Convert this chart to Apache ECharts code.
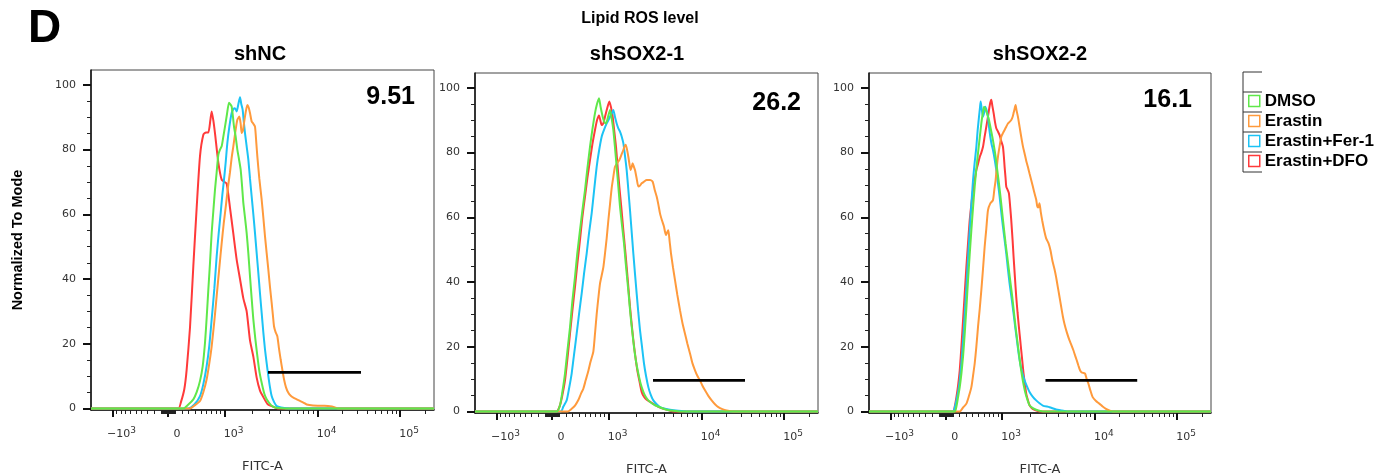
<!DOCTYPE html>
<html>
<head>
<meta charset="utf-8">
<title>Lipid ROS level</title>
<script src="https://cdn.jsdelivr.net/npm/echarts@6/dist/echarts.min.js"></script>
<style>
html, body { margin: 0; padding: 0; background: #fff; }
#chart { width: 1386px; height: 475px; }
</style>
</head>
<body>
<div id="chart"></div>
<script>
// x is the display channel of the biexponential FITC-A axis (0 = left edge)
const CH_MAX = 1029
const Y_MIN = -0.5
const Y_MAX = 104.6

const PANEL_TITLES = ['shNC', 'shSOX2-1', 'shSOX2-2']
const GATE_PCT = ['9.51', '26.2', '16.1']
const SERIES_NAMES = ['DMSO', 'Erastin', 'Erastin+Fer-1', 'Erastin+DFO']
const COLORS = ['#5fe84a', '#ff9a3c', '#1cc3f5', '#ff3a3a']

const X_MAJOR = [-1000, 0, 1000, 10000, 100000]
const X_LABELS = ['−10^3', '0', '10^3', '10^4', '10^5']
const Y_TICKS = [0, 20, 40, 60, 80, 100]

// [channel, % of mode]
const NC_DMSO = [[0,0],[277,0],[292,1.2],[307,2.8],[317,5],[327,8.5],[335,13],[342,20.3],[347,28],[352,36.7],[357,45],[362,54.2],[367,61],[372,67.6],[377,73],[382,78.4],[387,80],[392,81],[397,84],[402,87.1],[408,91],[414,94.5],[418,94],[422,93.3],[426,90],[429,87.1],[434,84],[439,80],[444,77],[449,73.8],[453,69],[457,63.5],[462,59],[467,54.2],[472,48],[477,40.8],[482,34],[487,27.5],[493,21.5],[499,16.2],[505,11.5],[512,7.9],[520,4.5],[527,2.8],[540,1],[552,0.3],[597,0],[1029,0]]
const NC_ERASTIN = [[0,0],[297,0],[312,1],[327,2.3],[337,5],[347,9],[355,14],[362,19.2],[370,27],[377,34.7],[385,43.5],[392,51],[398,57],[405,63],[411,68.5],[417,73],[422,77.5],[427,81],[433,85.5],[439,89.2],[445,90.2],[449,88],[452,85.1],[456,86],[459,88.2],[464,91.5],[469,93.8],[473,93],[477,91.3],[482,88.7],[487,88],[492,87.1],[496,82],[499,77.9],[505,71],[512,64.5],[517,59],[522,53.2],[527,48],[532,42.9],[537,37.5],[542,32.6],[546,28.5],[549,25.4],[554,23.5],[559,22.3],[564,18.5],[569,15.1],[574,12],[579,9],[585,6.5],[592,4.8],[600,3.8],[607,3.3],[617,2.8],[627,2.3],[637,1.8],[647,1.2],[666,0.9],[700,0.8],[717,0.7],[730,0.4],[741,0],[1029,0]]
const NC_FER1 = [[0,0],[292,0],[310,1.2],[327,3.8],[337,7.5],[347,13.1],[355,19.5],[362,27.5],[370,37],[377,47],[383,54],[389,60.4],[394,66],[399,70.7],[404,76],[409,82],[415,87],[422,91.3],[427,92.5],[432,92.8],[437,91.8],[442,94],[447,96.2],[451,94],[455,92.3],[458,89],[462,85.1],[467,81],[472,76.9],[477,71],[482,65.5],[487,60],[492,54.2],[497,48],[502,41.9],[507,35.5],[512,29.5],[517,23.5],[522,18.2],[527,14],[532,10],[537,6.5],[542,3.8],[549,2],[557,0.7],[570,0.3],[597,0],[1029,0]]
const NC_DFO = [[0,0],[262,0],[270,2],[280,6],[287,12],[297,25],[307,44],[317,62],[327,78],[337,84.6],[345,85.3],[352,85.3],[358,89],[362,91.8],[367,89],[372,85],[382,76],[392,70.7],[400,70],[407,69.5],[417,62],[427,54],[437,46],[447,40],[457,34],[467,30],[477,21],[487,16],[497,9.5],[507,5.5],[517,3.5],[530,1.3],[547,0.5],[560,0],[1029,0]]

const SOX1_DMSO = [[0,0],[245,0],[255,1.9],[262,6],[270,11.7],[277,18.5],[285,26],[292,34],[300,41.6],[307,49],[315,56],[322,62],[330,68.4],[337,75],[345,81.8],[352,87],[360,92.2],[366,95],[372,96.8],[377,94],[383,91.1],[388,89.5],[393,89],[399,91],[405,93.2],[410,90.5],[415,87],[420,81.5],[425,75.6],[430,69.5],[435,63.3],[441,57.5],[447,51.9],[452,46],[457,40.6],[462,35],[467,29.2],[472,24.5],[477,19.9],[483,15.5],[490,11.7],[497,8.5],[505,6],[512,4.5],[520,3.4],[530,2.5],[540,1.9],[557,1.2],[575,0.5],[595,0.2],[615,0],[1029,0]]
const SOX1_ERASTIN = [[0,0],[279,0],[290,0.8],[300,1.8],[310,3.5],[318,5.5],[325,7],[332,9.6],[340,12.5],[347,15.5],[355,18.5],[360,24],[365,30],[370,35],[375,39.5],[380,42],[385,44.5],[390,48.8],[395,53.5],[400,59],[405,64],[410,69],[415,72.5],[420,75.6],[427,76.8],[433,77.7],[440,79.5],[445,80.8],[449,82],[452,82.4],[456,81],[460,78.7],[464,76],[467,74.6],[470,75.5],[473,76.7],[477,75.5],[480,74.6],[485,72],[490,69.5],[495,69.8],[500,70.5],[507,71],[515,71.5],[525,71.5],[533,71],[539,68.5],[545,66.4],[550,64],[555,61.2],[561,59],[567,57.1],[570,55.5],[573,54.5],[577,55.5],[580,56],[584,52.5],[588,48.8],[594,44.5],[600,40.6],[607,36],[615,31.3],[622,27.5],[630,24],[637,21],[645,17.9],[652,15],[660,12.7],[667,11],[675,9.6],[682,8],[690,6.5],[700,4.8],[710,3.4],[720,2.2],[730,1.3],[742,0.7],[755,0.3],[775,0],[1029,0]]
const SOX1_FER1 = [[0,0],[258,0],[265,1.5],[275,3.4],[282,7],[290,11.7],[297,17.5],[305,24],[312,30],[320,36.4],[327,42.5],[335,48.8],[342,55],[350,61.2],[357,68],[365,75.6],[372,80.5],[380,84.9],[387,87],[395,89],[400,90],[405,91.1],[410,92],[415,93.2],[420,91],[425,89],[430,87.5],[435,86.5],[440,85],[445,82.9],[450,79],[455,74.6],[460,68.5],[465,62.2],[470,55.5],[475,48.8],[480,42.5],[485,36.4],[490,30.5],[495,25.1],[501,20],[507,14.8],[513,11],[520,7.5],[527,5.2],[535,3.4],[545,2.2],[555,1.3],[570,0.8],[585,0.5],[610,0.2],[635,0],[1029,0]]
const SOX1_DFO = [[0,0],[245,0],[255,1.9],[262,5],[270,9.6],[277,16],[285,24],[292,31],[300,38.5],[307,45.5],[315,53],[322,60],[330,66.4],[337,72],[345,77.7],[352,82.5],[360,87],[366,90],[372,91.5],[376,90],[380,88.5],[385,89],[390,91.1],[396,93.5],[403,95.8],[408,94],[413,91.1],[418,86.5],[423,81.8],[428,75.5],[433,69.5],[439,63],[445,56],[450,50.5],[455,44.7],[460,38.5],[465,32.3],[470,27],[475,22],[481,17],[487,12.7],[493,9.5],[500,6],[507,4.5],[515,3.6],[525,3],[535,2.3],[550,1.4],[565,0.8],[580,0.4],[595,0],[1029,0]]

const SOX2_DMSO = [[0,0],[258,0],[263,1.5],[268,4.4],[273,7.5],[278,11.7],[283,17],[288,24],[293,32],[298,40.6],[303,48.5],[308,56],[313,63],[318,69.5],[323,75],[328,79.8],[333,84.5],[338,89],[342,92],[346,94.2],[350,93.5],[353,92.7],[357,91.5],[361,90.1],[366,87.5],[371,84.9],[376,82],[381,78.7],[386,74.5],[391,70.5],[396,66],[401,61.2],[406,56.5],[411,51.9],[416,47.8],[421,43.7],[426,39.5],[431,35.4],[436,30.8],[441,26.1],[446,22],[451,17.9],[456,14],[461,10.6],[466,7.8],[471,5.5],[477,3.5],[483,1.9],[493,1],[503,0.5],[523,0],[1029,0]]
const SOX2_ERASTIN = [[0,0],[273,0],[283,1.2],[293,2.4],[300,4.5],[308,7.5],[313,11],[318,14.8],[323,20],[328,26.1],[333,31.5],[338,37.5],[343,44],[348,50.9],[353,56.5],[358,62.2],[365,64.3],[373,65.3],[377,68.5],[381,71.5],[384,75],[388,78.7],[393,82],[398,84.9],[403,86],[408,87],[413,88],[418,89],[423,89.5],[428,90.1],[432,91],[435,92.2],[438,93.5],[441,94.7],[444,93],[448,91.1],[453,88],[458,84.9],[463,82],[468,79.8],[473,77.5],[478,75.6],[483,73.5],[488,71.5],[493,69.5],[498,67.4],[503,65.5],[506,63.5],[509,63],[513,64.3],[517,61.5],[521,59.1],[527,56],[533,53.5],[540,52],[546,49.8],[552,46.5],[558,44],[563,41.5],[568,38.5],[573,35.5],[578,32.5],[583,29.5],[588,27.1],[595,24.5],[603,22],[609,20.5],[615,18.9],[620,17.3],[625,15.8],[630,14.2],[635,12.7],[640,12],[645,11.9],[650,11.7],[655,10],[660,8.6],[666,6.5],[673,4.4],[683,3.2],[693,2.4],[703,1.5],[713,0.8],[723,0.3],[733,0],[1029,0]]
const SOX2_FER1 = [[0,0],[253,0],[258,1.2],[263,3.4],[268,6],[273,9.6],[278,15],[283,22],[288,30],[293,38.5],[298,47.5],[303,56],[308,64],[313,71.5],[318,77],[323,81.8],[327,87],[331,91.1],[334,94],[336,95.8],[339,93.5],[343,91.1],[347,92.5],[350,94.2],[354,93],[358,91.1],[361,88],[365,84.9],[369,82.5],[373,80.8],[378,78],[383,74.6],[388,70.5],[393,66.4],[398,61.5],[403,57.1],[408,53],[413,48.8],[418,44],[423,39.5],[429,35],[435,30.2],[440,26],[445,22],[450,18],[455,14.8],[461,12],[468,9.6],[475,7.8],[483,6],[493,4.5],[503,3.4],[513,2.5],[523,1.8],[543,1.3],[563,0.6],[580,0.3],[597,0],[1029,0]]
const SOX2_DFO = [[0,0],[253,0],[258,1.5],[263,4.4],[268,8],[273,12.7],[278,20],[283,28.2],[288,36.5],[293,44.7],[298,52],[303,59.1],[308,64],[313,68.4],[318,71.5],[323,74.6],[328,76.5],[333,78.6],[338,80],[343,81.8],[348,85],[353,88],[357,90.5],[361,93.2],[365,95.5],[368,96.3],[371,94.5],[375,92.2],[379,89.5],[383,87.5],[388,86.5],[393,85.4],[398,83.5],[403,81.8],[406,78.5],[408,75.6],[411,72],[413,69.5],[417,68.5],[421,67.4],[425,63],[428,59.1],[432,53],[435,47.8],[439,41.5],[443,35.4],[447,30.5],[451,26.1],[455,22],[458,18.9],[462,14.8],[465,11.7],[469,8.5],[473,5.5],[478,3.5],[483,1.9],[490,1],[498,0.5],[513,0],[1029,0]]

// gate bars: [[fromCh, level], [toCh, level]]
const GATE_NC = [[531, 11.1], [810, 11.1]]
const GATE_SOX1 = [[534, 9.6], [810, 9.6]]
const GATE_SOX2 = [[531, 9.6], [807, 9.6]]

const PANELS = [
  { curves: [NC_DMSO, NC_ERASTIN, NC_FER1, NC_DFO], gate: GATE_NC },
  { curves: [SOX1_DMSO, SOX1_ERASTIN, SOX1_FER1, SOX1_DFO], gate: GATE_SOX1 },
  { curves: [SOX2_DMSO, SOX2_ERASTIN, SOX2_FER1, SOX2_DFO], gate: GATE_SOX2 }
]

// rough logicle: close to linear around 0, logarithmic from 10^3 up
const ZERO_CH = 231
const POS_SPAN = 169.5
const NEG_SPAN = 166.5
const DEC_CH = [400.5, 679.5, 927]
function toChannel (v) {
  const a = Math.abs(v)
  if (a < 1000) {
    const h = Math.asinh(1.5 * a / 1000) / Math.asinh(1.5)
    return v < 0 ? ZERO_CH - NEG_SPAN * h : ZERO_CH + POS_SPAN * h
  }
  const d = Math.log10(a)
  const ch = d <= 4
    ? DEC_CH[0] + (d - 3) * (DEC_CH[1] - DEC_CH[0])
    : DEC_CH[1] + (d - 4) * (DEC_CH[2] - DEC_CH[1])
  return v < 0 ? ZERO_CH - NEG_SPAN - (ch - DEC_CH[0]) : ch
}

const xMajorCh = X_MAJOR.map(toChannel)
const xMinorCh = []
for (let n = 1; n <= 5; n++) {
  for (let k = 1; k <= 9; k++) {
    const v = k * Math.pow(10, n)
    if (X_MAJOR.indexOf(v) >= 0) continue
    ;[v, -v].forEach(x => {
      const c = toChannel(x)
      if (c > 0 && c < CH_MAX) xMinorCh.push(c)
    })
  }
}
const yMinor = []
for (let v = 5; v < 100; v += 5) {
  if (Y_TICKS.indexOf(v) < 0) yMinor.push(v)
}

function xLabel (value) {
  let idx = 0
  xMajorCh.forEach((c, i) => { if (Math.abs(c - value) < Math.abs(xMajorCh[idx] - value)) idx = i })
  const parts = X_LABELS[idx].split('^')
  return parts.length > 1 ? '{n|' + parts[0] + '}{s|' + parts[1] + '}' : '{n|' + parts[0] + '}'
}

const GRIDS = [
  { left: 91, top: 70, width: 343, height: 340 },
  { left: 475, top: 73, width: 343, height: 340 },
  { left: 869, top: 73, width: 342, height: 340 }
]

const chart = echarts.init(document.getElementById('chart'))

const grid = GRIDS.map(g => Object.assign({
  show: true,
  borderColor: '#444',
  borderWidth: 1,
  outerBoundsMode: 'none'
}, g))

const xAxis = []
const yAxis = []
const series = []
const drawOrder = [3, 2, 1, 0]

PANELS.forEach((p, i) => {
  xAxis.push({
    gridIndex: i,
    type: 'value',
    min: 0,
    max: CH_MAX,
    position: 'bottom',
    splitLine: { show: false },
    axisLine: { onZero: false, lineStyle: { color: '#111', width: 1.5 } },
    axisTick: { customValues: xMajorCh, length: 7, lineStyle: { color: '#111', width: 2 } },
    axisLabel: {
      customValues: xMajorCh,
      formatter: xLabel,
      margin: 16,
      padding: [0, 0, 0, 18],
      rich: {
        n: { fontFamily: 'DejaVu Sans', fontSize: 11, color: '#333', padding: [3, 0, 3, 0] },
        s: { fontFamily: 'DejaVu Sans', fontSize: 9, color: '#333', padding: [0, 0, 8, 0] }
      }
    },
    name: 'FITC-A',
    nameLocation: 'middle',
    nameGap: 50,
    nameTextStyle: { fontFamily: 'DejaVu Sans', fontSize: 13, color: '#333' }
  })
  yAxis.push({
    gridIndex: i,
    type: 'value',
    min: Y_MIN,
    max: Y_MAX,
    position: 'left',
    splitLine: { show: false },
    axisLine: { onZero: false, lineStyle: { color: '#111', width: 1.5 } },
    axisTick: { customValues: Y_TICKS, length: 8, lineStyle: { color: '#111', width: 2 } },
    axisLabel: {
      customValues: Y_TICKS,
      margin: 15,
      fontFamily: 'DejaVu Sans',
      fontSize: 11,
      color: '#333'
    },
    name: i === 0 ? 'Normalized To Mode' : '',
    nameLocation: 'middle',
    nameRotate: 90,
    nameGap: 66,
    nameTextStyle: { fontFamily: 'Liberation Sans', fontSize: 14.5, fontWeight: 'bold', color: '#000' }
  })
  series.push(...drawOrder.map(k => ({
    name: SERIES_NAMES[k],
    type: 'line',
    xAxisIndex: i,
    yAxisIndex: i,
    data: p.curves[k],
    symbol: 'none',
    smooth: 0.2,
    silent: true,
    itemStyle: { color: COLORS[k] },
    lineStyle: { color: COLORS[k], width: 2 }
  })))
  series.push({
    name: 'gate',
    type: 'line',
    xAxisIndex: i,
    yAxisIndex: i,
    data: p.gate,
    symbol: 'none',
    silent: true,
    z: 5,
    lineStyle: { color: '#000', width: 2.8 }
  })
})

// overlay axes that only carry the minor ticks
PANELS.forEach((p, i) => {
  xAxis.push({
    gridIndex: i,
    type: 'value',
    min: 0,
    max: CH_MAX,
    position: 'bottom',
    splitLine: { show: false },
    axisLine: { show: false, onZero: false },
    axisLabel: { show: false },
    axisTick: { customValues: xMinorCh, length: 4, lineStyle: { color: '#222', width: 1 } }
  })
  yAxis.push({
    gridIndex: i,
    type: 'value',
    min: Y_MIN,
    max: Y_MAX,
    position: 'left',
    splitLine: { show: false },
    axisLine: { show: false, onZero: false },
    axisLabel: { show: false },
    axisTick: { customValues: yMinor, length: 4, lineStyle: { color: '#222', width: 1 } }
  })
})

const bold = (size) => ({ fontFamily: 'Liberation Sans', fontWeight: 'bold', fontSize: size, color: '#000' })
const title = [
  { text: 'D', left: 28, top: 6, padding: 0, textStyle: bold(46) },
  { text: 'Lipid ROS level', left: 640, top: 11, textAlign: 'center', padding: 0, textStyle: bold(16) },
  { text: PANEL_TITLES[0], left: 260, top: 44, textAlign: 'center', padding: 0, textStyle: bold(20) },
  { text: PANEL_TITLES[1], left: 637, top: 44, textAlign: 'center', padding: 0, textStyle: bold(20) },
  { text: PANEL_TITLES[2], left: 1040, top: 44, textAlign: 'center', padding: 0, textStyle: bold(20) },
  { text: GATE_PCT[0], right: 971, top: 85, padding: 0, textStyle: bold(25) },
  { text: GATE_PCT[1], right: 585, top: 91, padding: 0, textStyle: bold(25) },
  { text: GATE_PCT[2], right: 194, top: 88, padding: 0, textStyle: bold(25) }
]

// legend frame (table lines left of the entries)
const legendLines = [72, 92, 112, 132, 152, 172].map(y => ({
  type: 'line',
  shape: { x1: 1243, y1: y, x2: 1262, y2: y },
  style: { stroke: '#333', lineWidth: 1 }
}))
legendLines.push({
  type: 'line',
  shape: { x1: 1243, y1: 72, x2: 1243, y2: 172 },
  style: { stroke: '#333', lineWidth: 1 }
})

chart.setOption({
  animation: false,
  textStyle: { fontFamily: 'Liberation Sans' },
  title: title,
  legend: {
    orient: 'vertical',
    left: 1248,
    top: 91,
    padding: 0,
    itemWidth: 11,
    itemHeight: 11,
    itemGap: 0,
    selectedMode: false,
    textStyle: { fontFamily: 'Liberation Sans', fontWeight: 'bold', fontSize: 17, color: '#000', lineHeight: 20 },
    data: SERIES_NAMES.map((n, i) => ({
      name: n,
      icon: 'rect',
      itemStyle: { color: '#fff', borderColor: COLORS[i], borderWidth: 1.5 }
    }))
  },
  graphic: legendLines,
  grid: grid,
  xAxis: xAxis,
  yAxis: yAxis,
  series: series
})
</script>
</body>
</html>
